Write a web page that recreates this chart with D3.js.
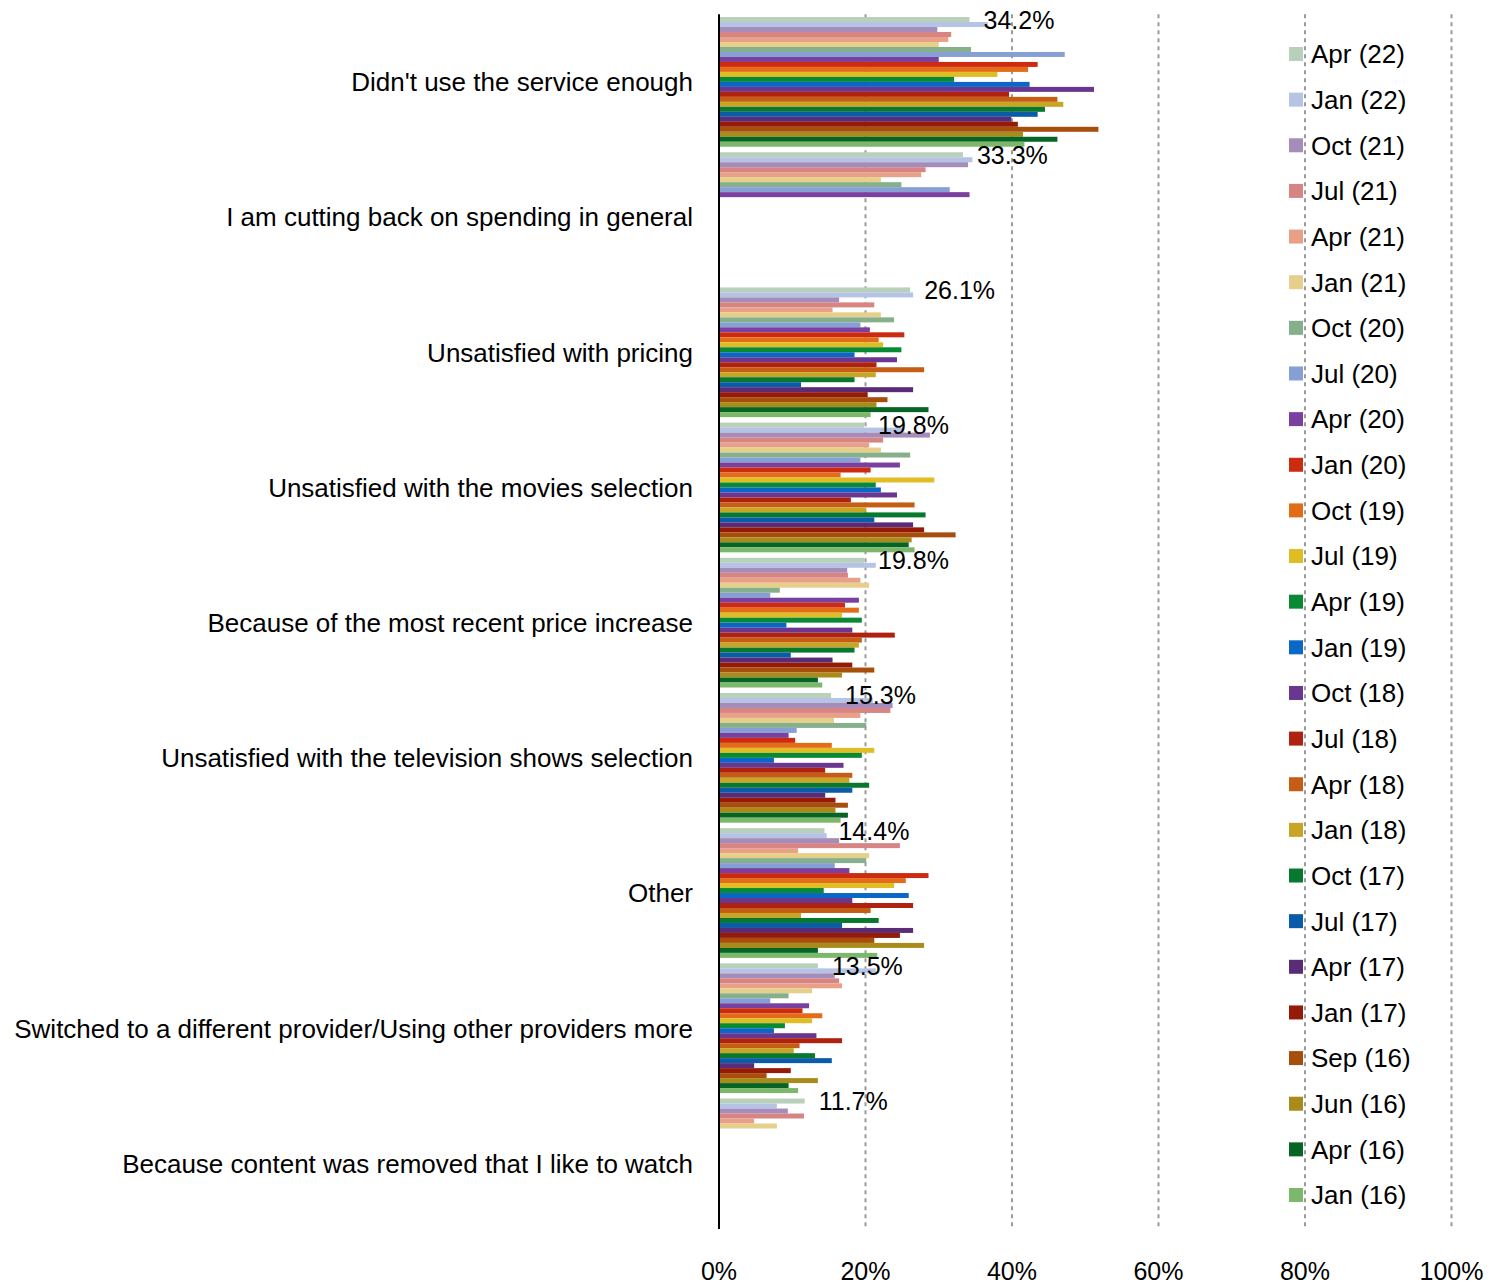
<!DOCTYPE html>
<html>
<head>
<meta charset="utf-8">
<script src="https://cdn.jsdelivr.net/npm/d3@7"></script>
<style>
  body { margin: 0; background: #fff; }
  svg text { font-family: "Liberation Sans", Arial, sans-serif; fill: #000; }
</style>
</head>
<body>
<svg id="chart" width="1506" height="1285"></svg>
<script>
const categories = [
  "Didn't use the service enough",
  "I am cutting back on spending in general",
  "Unsatisfied with pricing",
  "Unsatisfied with the movies selection",
  "Because of the most recent price increase",
  "Unsatisfied with the television shows selection",
  "Other",
  "Switched to a different provider/Using other providers more",
  "Because content was removed that I like to watch"
];

const series = ["Apr (22)", "Jan (22)", "Oct (21)", "Jul (21)", "Apr (21)", "Jan (21)", "Oct (20)", "Jul (20)", "Apr (20)",
  "Jan (20)", "Oct (19)", "Jul (19)", "Apr (19)", "Jan (19)", "Oct (18)", "Jul (18)", "Apr (18)", "Jan (18)",
  "Oct (17)", "Jul (17)", "Apr (17)", "Jan (17)", "Sep (16)", "Jun (16)", "Apr (16)", "Jan (16)"];

const colors = ["#b9d0ba", "#b5c4e5", "#a68cba", "#d78583", "#e9a089", "#e6cf8b", "#86b08b", "#86a0d5", "#7a40a0",
  "#cd2a12", "#e26c18", "#e0bd24", "#088a34", "#0a67c5", "#6a3690", "#b02210", "#c55e14", "#c9a525",
  "#08782f", "#0a5ba8", "#5a2c78", "#961a08", "#a84e0c", "#a98b1b", "#066525", "#7bb86b"];

// values in %, order follows `series`; null = not asked that wave
const didntUse   = [34.2, 36.7, 29.8, 31.7, 31.3, 30.0, 34.4, 47.2, 30.0, 43.5, 42.2, 38.0, 32.1, 42.4, 51.2, 39.6, 46.2, 47.0, 44.5, 43.5, 39.9, 40.8, 51.8, 41.5, 46.2, 41.7];
const cuttingBack = [33.3, 34.6, 34.0, 28.2, 27.6, 22.1, 24.9, 31.5, 34.2, null, null, null, null, null, null, null, null, null, null, null, null, null, null, null, null, null];
const pricing    = [26.1, 26.5, 16.4, 21.2, 15.5, 22.1, 23.9, 19.3, 20.6, 25.3, 21.8, 22.4, 24.9, 18.5, 24.3, 21.5, 28.0, 21.4, 18.5, 11.2, 26.5, 20.3, 23.0, 21.5, 28.6, 20.7];
const movies     = [19.8, 25.3, 28.8, 22.4, 20.5, 22.1, 26.1, 19.3, 24.7, 20.7, 16.6, 29.4, 21.4, 22.1, 24.3, 18.0, 26.7, 20.1, 28.2, 21.2, 26.5, 28.0, 32.3, 26.3, 25.9, 26.7];
const priceRise  = [19.8, 21.4, 17.5, 17.6, 19.3, 20.5, 8.3, 7.0, 19.1, 17.2, 19.1, 16.8, 19.5, 9.2, 18.2, 24.0, 19.5, 19.1, 18.5, 9.8, 15.5, 18.2, 21.2, 16.8, 13.5, 14.1];
const tvShows    = [15.3, 21.0, 23.7, 23.4, 19.3, 15.7, 20.1, 10.6, 9.5, 10.4, 15.4, 21.2, 19.5, 7.5, 17.0, 14.5, 18.2, 17.8, 20.5, 18.2, 14.5, 15.9, 17.6, 15.9, 17.6, 16.6];
const other      = [14.4, 14.7, 16.4, 24.7, 10.8, 20.5, 20.1, 15.8, 17.8, 28.6, 25.5, 23.9, 14.3, 25.9, 18.2, 26.5, 20.7, 11.2, 21.8, 16.8, 26.5, 24.7, 21.2, 28.0, 13.5, 21.6];
const switched   = [13.5, 21.4, 15.8, 16.4, 16.8, 12.7, 9.5, 7.0, 12.3, 11.4, 14.1, 12.7, 9.0, 7.5, 13.3, 16.8, 11.0, 10.2, 13.1, 15.4, 4.8, 9.8, 6.5, 13.5, 9.5, 10.8];
const removed    = [11.7, 7.9, 9.4, 11.6, 4.8, 7.9, null, null, null, null, null, null, null, null, null, null, null, null, null, null, null, null, null, null, null, null];

const values = [didntUse, cuttingBack, pricing, movies, priceRise, tvShows, other, switched, removed];
const xTicks = [0, 0.2, 0.4, 0.6, 0.8, 1.0];

const svg = d3.select("#chart");
const plotTop = 14.3, plotBottom = 1231;

const x = d3.scaleLinear().domain([0, 1]).range([719, 1451.5]);
const y = d3.scaleBand().domain(categories).range([plotTop, plotBottom]).padding(0);
const ySub = d3.scaleBand().domain(series).range([0, y.bandwidth()]).paddingInner(0).paddingOuter(0.55);
const color = d3.scaleOrdinal().domain(series).range(colors);

// dashed gridlines
svg.append("g")
  .selectAll("line")
  .data(xTicks.slice(1))
  .join("line")
  .attr("x1", d => x(d)).attr("x2", d => x(d))
  .attr("y1", plotTop).attr("y2", plotBottom - 2)
  .attr("stroke", "#9a9a9a")
  .attr("stroke-width", 2)
  .attr("stroke-dasharray", "4,4");

// bars
const groups = svg.append("g")
  .selectAll("g")
  .data(categories)
  .join("g")
  .attr("transform", d => "translate(0," + y(d) + ")");

groups.selectAll("rect")
  .data((d, i) => series.map((s, j) => ({ s: s, v: values[i][j] })).filter(o => o.v != null))
  .join("rect")
  .attr("x", x(0))
  .attr("y", d => ySub(d.s))
  .attr("width", d => x(d.v / 100) - x(0))
  .attr("height", ySub.bandwidth())
  .attr("fill", d => color(d.s));

// data labels for the latest wave
groups.append("text")
  .attr("x", (d, i) => x(values[i][0] / 100) + 14)
  .attr("y", ySub(series[0]) + ySub.bandwidth() / 2)
  .attr("dy", "0.36em")
  .style("font-size", "25px")
  .text((d, i) => d3.format(".1f")(values[i][0]) + "%");

// category labels
svg.append("g")
  .selectAll("text")
  .data(categories)
  .join("text")
  .attr("x", 693)
  .attr("y", d => y(d) + y.bandwidth() / 2)
  .attr("dy", "0.36em")
  .attr("text-anchor", "end")
  .style("font-size", "26px")
  .text(d => d);

// y axis line
svg.append("line")
  .attr("x1", x(0)).attr("x2", x(0))
  .attr("y1", plotTop).attr("y2", plotBottom - 2)
  .attr("stroke", "#000")
  .attr("stroke-width", 2);

// x tick labels
svg.append("g")
  .selectAll("text")
  .data(xTicks)
  .join("text")
  .attr("x", d => x(d))
  .attr("y", 1271)
  .attr("dy", "0.36em")
  .attr("text-anchor", "middle")
  .style("font-size", "25px")
  .text(d => d3.format(".0%")(d));

// legend
const legend = svg.append("g")
  .selectAll("g")
  .data(series)
  .join("g")
  .attr("transform", (d, i) => "translate(1289," + (54 + i * 45.64) + ")");

legend.append("rect")
  .attr("x", 0).attr("y", -7)
  .attr("width", 14).attr("height", 14)
  .attr("fill", d => color(d));

legend.append("text")
  .attr("x", 22)
  .attr("dy", "0.36em")
  .style("font-size", "26px")
  .text(d => d);
</script>
</body>
</html>
